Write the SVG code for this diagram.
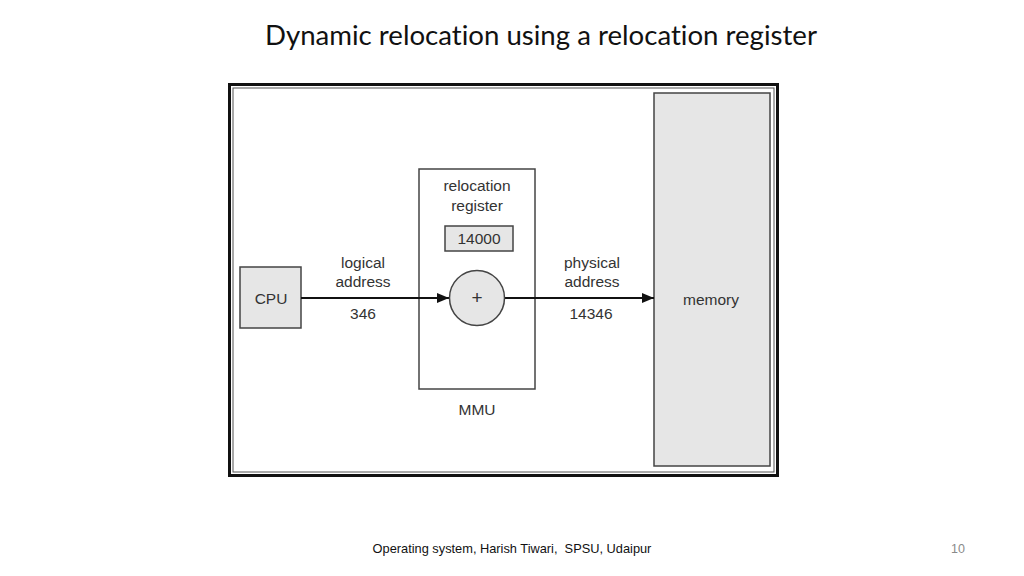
<svg xmlns="http://www.w3.org/2000/svg" width="1024" height="576" viewBox="0 0 1024 576">
<style>
.t{font-family:"Liberation Sans",Arial,sans-serif;font-size:15.5px;fill:#333;text-anchor:middle}
.box{stroke:#444;stroke-width:1.5}
.grey{fill:#e6e6e6}
</style>
<defs>
<marker id="ah" markerWidth="12" markerHeight="10" refX="12" refY="5" orient="auto" markerUnits="userSpaceOnUse">
<path d="M0,0 L12,5 L0,10 Z" fill="#111"/>
</marker>
</defs>
<rect width="1024" height="576" fill="#fff"/>
<text x="541" y="45" font-family="Lato,'Open Sans',sans-serif" font-size="27" fill="#111" text-anchor="middle" textLength="552" lengthAdjust="spacingAndGlyphs" style="font-variant-ligatures:none">Dynamic relocation using a relocation register</text>
<g id="frame">
<rect x="229.5" y="84.5" width="548" height="391" fill="none" stroke="#111" stroke-width="3"/>
<rect x="233" y="88" width="541" height="384" fill="none" stroke="#555" stroke-width="1"/>
</g>
<g id="memory">
<rect class="box grey" x="654" y="93" width="116" height="373" stroke-width="1.2"/>
<text class="t" x="711" y="305">memory</text>
</g>
<g id="mmu">
<rect class="box" x="419" y="169" width="116" height="220" fill="#fff"/>
<text class="t" x="477" y="191">relocation</text>
<text class="t" x="477" y="211">register</text>
<text class="t" x="477" y="415">MMU</text>
</g>
<g id="register">
<rect class="box grey" x="445" y="226" width="68" height="25"/>
<text class="t" x="479" y="244">14000</text>
</g>
<g id="cpu">
<rect class="box grey" x="240" y="267" width="61" height="61"/>
<text class="t" x="271" y="304">CPU</text>
</g>
<g id="connectors">
<line x1="301" y1="298" x2="449" y2="298" stroke="#111" stroke-width="2" marker-end="url(#ah)"/>
<line x1="505" y1="298" x2="654" y2="298" stroke="#111" stroke-width="2" marker-end="url(#ah)"/>
<text class="t" x="363" y="268">logical</text>
<text class="t" x="363" y="287">address</text>
<text class="t" x="363" y="319">346</text>
<text class="t" x="592" y="268">physical</text>
<text class="t" x="592" y="287">address</text>
<text class="t" x="591" y="319">14346</text>
</g>
<g id="adder">
<circle class="box grey" cx="477" cy="298" r="27.5"/>
<text class="t" x="477" y="304" style="font-size:19px">+</text>
</g>
<text x="512" y="553" font-family="'Liberation Sans',Arial,sans-serif" font-size="12.8" fill="#111" text-anchor="middle" xml:space="preserve">Operating system, Harish Tiwari,  SPSU, Udaipur</text>
<text x="958" y="553" font-family="'Liberation Sans',Arial,sans-serif" font-size="12.5" fill="#8a8a8a" text-anchor="middle">10</text>
</svg>
